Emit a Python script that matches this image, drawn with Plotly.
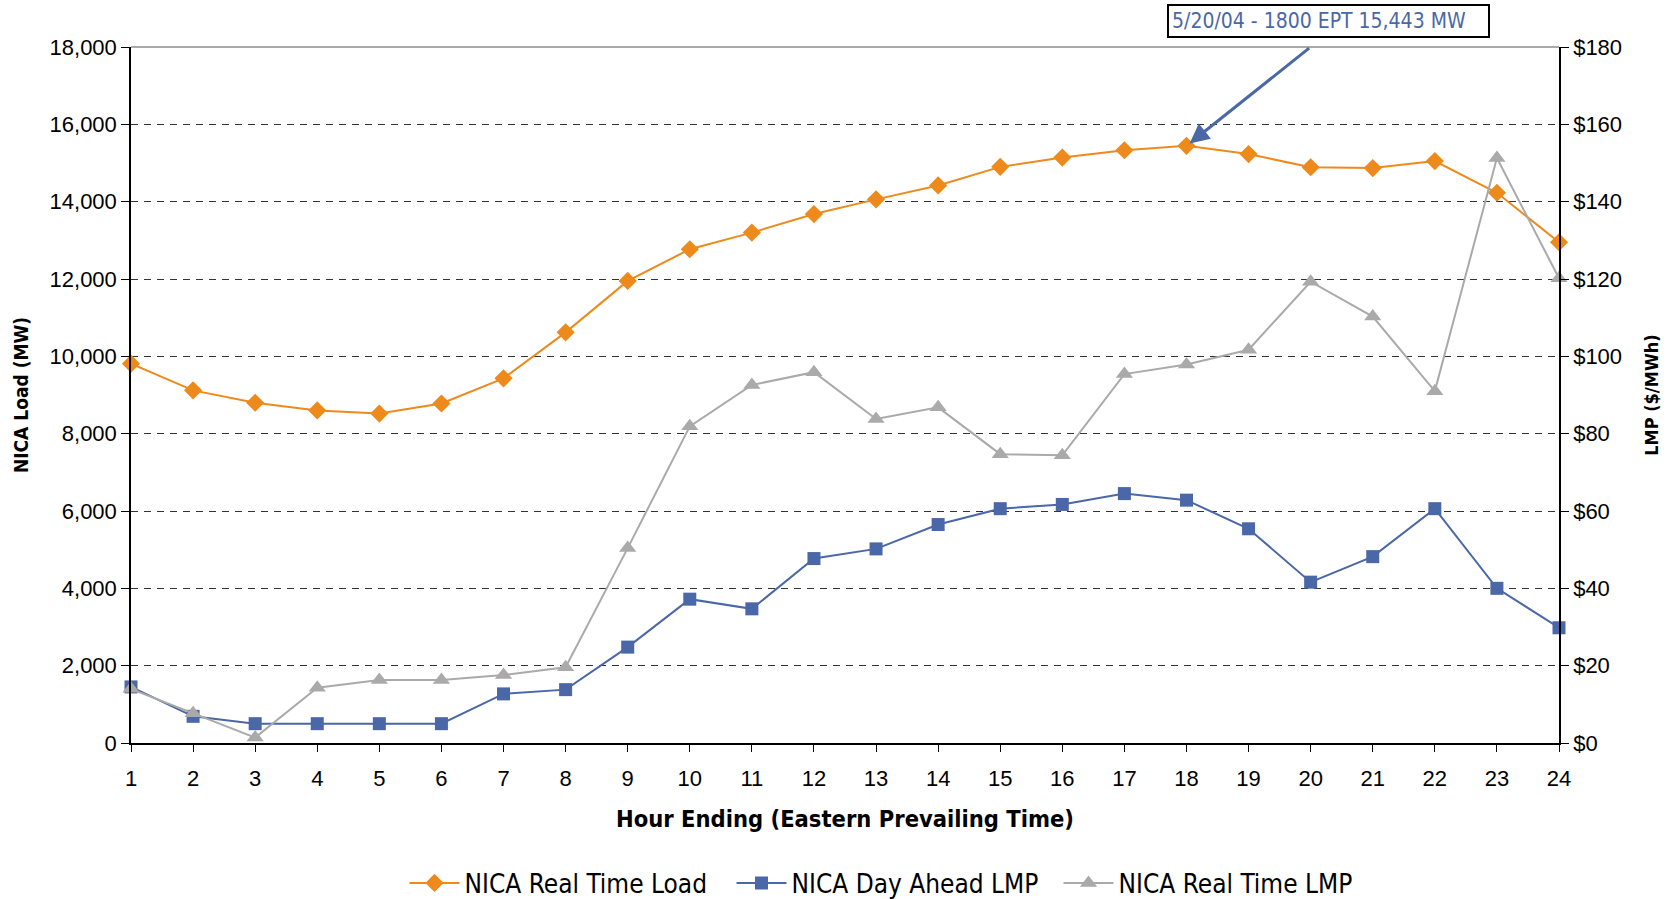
import plotly.graph_objects as go

hours = list(range(1, 25))
rt_load = [9810, 9120, 8800, 8600, 8520, 8780, 9430, 10620, 11950, 12770, 13200, 13680,
           14060, 14420, 14900, 15140, 15330, 15443, 15230, 14890, 14870, 15050, 14230, 12950]
da_lmp = [14.5, 6.9, 5.0, 5.0, 5.0, 5.0, 12.7, 13.8, 24.8, 37.2, 34.7, 47.7,
          50.2, 56.5, 60.6, 61.7, 64.5, 62.8, 55.4, 41.6, 48.2, 60.6, 40.0, 29.8]
rt_lmp = [14.0, 7.7, 1.4, 14.3, 16.3, 16.3, 17.6, 19.6, 50.4, 81.9, 92.6, 95.9,
          83.8, 86.8, 74.7, 74.4, 95.4, 97.9, 101.7, 119.3, 110.3, 91.0, 151.3, 120.2]
load_ticks = list(range(0, 18001, 2000))
lmp_ticks = list(range(0, 181, 20))
peak_label = "5/20/04 - 1800 EPT 15,443 MW"

ORANGE = "#EE8A1C"
BLUE = "#4A67A8"
GRAY = "#AAAAAA"
NARROW = "DejaVu Sans Condensed, Liberation Sans Narrow, Arial Narrow, Liberation Sans, Arial"
TICKF = dict(family="Liberation Sans, Arial", size=22, color="#000000")

W, H = 1671, 899
ML, MR, MT, MB = 131, 112, 47, 156
pw = W - ML - MR
ph = H - MT - MB

fig = go.Figure()
fig.add_trace(go.Scatter(x=hours, y=rt_load, name="NICA Real Time Load", mode="lines+markers",
                         line=dict(color=ORANGE, width=2),
                         marker=dict(symbol="diamond", size=14, color=ORANGE),
                         cliponaxis=False))
fig.add_trace(go.Scatter(x=hours, y=da_lmp, name="NICA Day Ahead LMP", mode="lines+markers",
                         line=dict(color=BLUE, width=2),
                         marker=dict(symbol="square", size=13, color=BLUE),
                         yaxis="y2", cliponaxis=False))
fig.add_trace(go.Scatter(x=hours, y=rt_lmp, name="NICA Real Time LMP", mode="lines+markers",
                         line=dict(color=GRAY, width=2),
                         marker=dict(symbol="triangle-up", size=15, color=GRAY),
                         yaxis="y2", cliponaxis=False))

fig.update_layout(
    width=W, height=H,
    paper_bgcolor="white", plot_bgcolor="white",
    margin=dict(l=ML, r=MR, t=MT, b=MB, autoexpand=False),
    xaxis=dict(range=[1, 24], tickvals=hours, ticktext=[str(h) for h in hours],
               showgrid=False, showline=True, linecolor="black", linewidth=1.5,
               ticks="outside", ticklen=7, tickcolor="black", tickfont=TICKF,
               ticklabelstandoff=8,
               title=dict(text="<b>Hour Ending (Eastern Prevailing Time)</b>",
                          font=dict(family=NARROW, size=23.5, color="#000000"), standoff=20),
               zeroline=False, automargin=False),
    yaxis=dict(range=[0, 18000], tickvals=load_ticks,
               ticktext=[f"{v:,}" for v in load_ticks],
               showgrid=True, gridcolor="#333333", gridwidth=1, griddash="7px,6px",
               showline=True, linecolor="black", linewidth=1.5,
               ticks="outside", ticklen=8, tickcolor="black", tickfont=TICKF,
               title=dict(text="<b>NICA Load (MW)</b>",
                          font=dict(family=NARROW, size=19, color="#000000"), standoff=16),
               zeroline=False, automargin=False),
    yaxis2=dict(range=[0, 180], tickvals=lmp_ticks,
                ticktext=[f"${v}" for v in lmp_ticks],
                overlaying="y", side="right", showgrid=False,
                showline=True, linecolor="black", linewidth=1.5,
                ticks="outside", ticklen=8, tickcolor="black", tickfont=TICKF,
                title=dict(text="<b>LMP ($/MWh)</b>",
                           font=dict(family=NARROW, size=18, color="#000000"), standoff=24),
                zeroline=False, automargin=False),
    legend=dict(orientation="h", x=0.5 + 50 / pw, xanchor="center",
                y=-(883 - (H - MB)) / ph, yanchor="middle",
                font=dict(family=NARROW, size=26, color="#000000"), itemwidth=50,
                entrywidth=262, entrywidthmode="pixels",
                traceorder="normal"),
    showlegend=True,
)

# top border line
fig.add_shape(type="line", xref="paper", yref="paper", x0=0, x1=1, y0=1, y1=1,
              line=dict(color="#555555", width=1))

# arrow to peak
fig.add_annotation(x=18, y=15443, xref="x", yref="y", ax=20.0, ay=18000, axref="x", ayref="y",
                   text="", showarrow=True, arrowhead=2, arrowsize=1.3, arrowwidth=3,
                   arrowcolor=BLUE, standoff=4)
# label box (pixel position converted to paper coordinates)
fig.add_annotation(x=(1328.5 - ML) / pw, y=((H - MB) - 21) / ph, xref="paper", yref="paper",
                   xanchor="center", yanchor="middle",
                   text=peak_label, showarrow=False, width=313, align="left",
                   font=dict(family=NARROW, size=21, color=BLUE),
                   bordercolor="black", borderwidth=2, bgcolor="white", borderpad=3)

fig.write_html("out.html", config={"displayModeBar": False},
               post_script="document.body.style.margin='0';document.body.style.overflow='hidden';")
